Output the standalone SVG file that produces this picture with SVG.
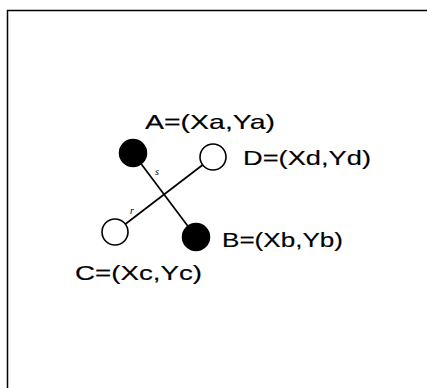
<svg xmlns="http://www.w3.org/2000/svg" width="427" height="388" viewBox="0 0 427 388">
<style>
.lbl{font-family:"Liberation Sans",Arial,sans-serif;font-size:21px;fill:#000;stroke:#000;stroke-width:0.15}
.sm{font-family:"Liberation Serif","Times New Roman",serif;font-style:italic;font-size:10px;fill:#000}
.edge{stroke:#000;stroke-width:1.7;fill:none}
.full{fill:#000;stroke:#000;stroke-width:1.5}
.open{fill:#fff;stroke:#000;stroke-width:1.6}
</style>
<rect x="0" y="0" width="427" height="388" fill="#fff"/>
<rect x="7.5" y="10.5" width="440" height="400" fill="none" stroke="#000" stroke-width="1.5"/>
<g id="connectors">
<line class="edge" x1="133" y1="153" x2="196" y2="237"/>
<line class="edge" x1="115" y1="232" x2="213" y2="157"/>
<text class="sm" x="155" y="175">s</text>
<text class="sm" x="130" y="214">r</text>
</g>
<g id="A">
<circle class="full" cx="133" cy="153" r="13.5"/>
<text class="lbl" x="145" y="129" textLength="130" lengthAdjust="spacingAndGlyphs">A=(Xa,Ya)</text>
</g>
<g id="D">
<circle class="open" cx="213" cy="157" r="13"/>
<text class="lbl" x="243" y="165" textLength="128" lengthAdjust="spacingAndGlyphs">D=(Xd,Yd)</text>
</g>
<g id="B">
<circle class="full" cx="196" cy="237" r="13.5"/>
<text class="lbl" x="222" y="247" textLength="121" lengthAdjust="spacingAndGlyphs">B=(Xb,Yb)</text>
</g>
<g id="C">
<circle class="open" cx="115" cy="232" r="13"/>
<text class="lbl" x="75" y="280" textLength="127" lengthAdjust="spacingAndGlyphs">C=(Xc,Yc)</text>
</g>
</svg>
